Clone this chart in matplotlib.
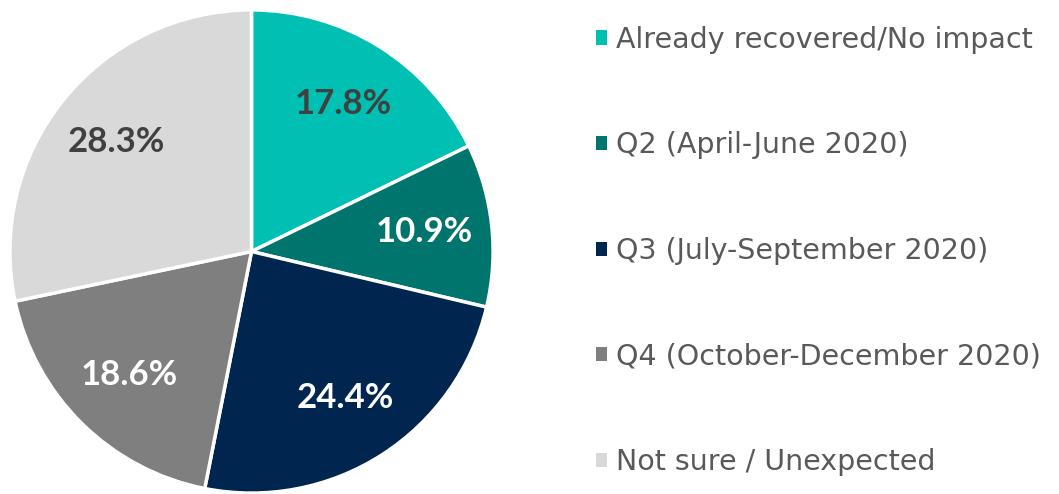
import matplotlib
matplotlib.use("Agg")
import matplotlib.pyplot as plt

labels = ["Already recovered/No impact", "Q2 (April-June 2020)",
          "Q3 (July-September 2020)", "Q4 (October-December 2020)",
          "Not sure / Unexpected"]
values = [17.8, 10.9, 24.4, 18.6, 28.3]
colors = ["#00BFB3", "#00756D", "#002650", "#7F7F7F", "#D9D9D9"]
pct_colors = ["#404040", "white", "white", "white", "#404040"]

W, H = 1059, 494
fig = plt.figure(figsize=(W / 100, H / 100), dpi=100)

cx, cy, r = 251.5, 251.5, 244
ax = fig.add_axes([(cx - r) / W, (H - cy - r) / H, 2 * r / W, 2 * r / H])

wedges, texts, autotexts = ax.pie(
    values, colors=colors, startangle=90, counterclock=False,
    autopct="%.1f%%", pctdistance=0.72, radius=1,
    wedgeprops=dict(edgecolor="white", linewidth=2.5))
ax.set_xlim(-1.01, 1.01)
ax.set_ylim(-1.01, 1.01)

for t, c in zip(autotexts, pct_colors):
    t.set_color(c)
    t.set_fontfamily("Lato")
    t.set_fontweight("bold")
    t.set_fontsize(25)

fs = 20.5
fig.legend(wedges, labels, loc="center left", bbox_to_anchor=(570 / W, 0.492),
           frameon=False, prop=dict(family="DejaVu Sans", size=fs),
           labelcolor="#595959", handlelength=0.39, handleheight=0.39,
           handletextpad=0.32, labelspacing=2.725)
for h in fig.legends[0].legend_handles:
    h.set_edgecolor("none")

fig.savefig("out.png", dpi=100)
